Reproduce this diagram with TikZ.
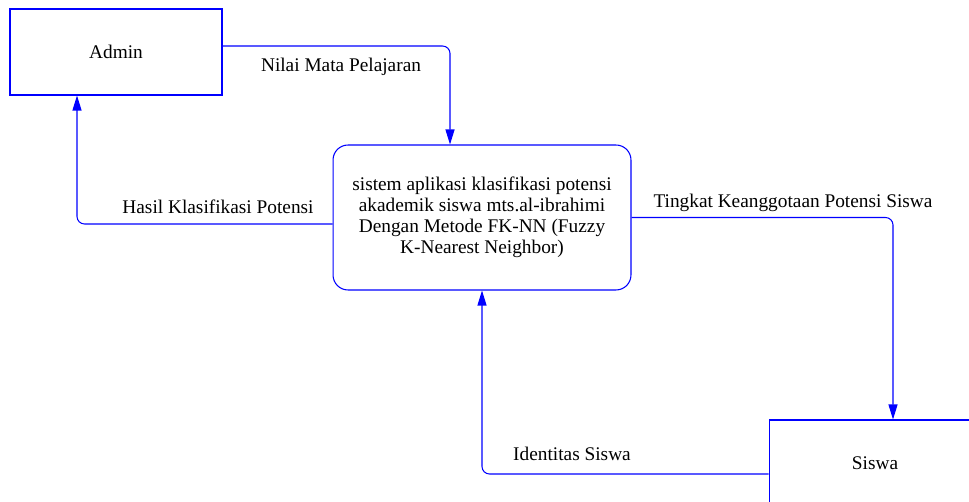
\documentclass[tikz,border=0pt]{standalone}
\usepackage{fontspec}
\setmainfont{Liberation Serif}
\usetikzlibrary{arrows.meta}

\begin{document}
\begin{tikzpicture}[
	x=0.02cm, y=-0.02cm,
	entity/.style={
		rectangle,
		draw=blue,
		line width=0.6pt,
		align=center,
		minimum width=4.24cm,
		minimum height=1.72cm,
		font=\fontsize{11}{12}\selectfont
	},
	process/.style={
		rectangle,
		draw=blue,
		line width=0.6pt,
		rounded corners=0.3cm,
		align=center,
		font=\fontsize{11}{12}\selectfont
	},
	flow/.style={
		draw=blue,
		line width=0.6pt,
		rounded corners=0.15cm,
		-{Triangle[length=0.3cm,width=0.18cm]}
	},
	flowlabel/.style={
		font=\fontsize{11}{12}\selectfont
	},
]

\useasboundingbox (0,0) rectangle (969,502);

%% Entities %%
\node[entity] (admin) at (116,52) {Admin};
\node[entity] (siswa) at (875,463) {Siswa};

%% Process %%
\node[process, minimum width=5.96cm, minimum height=2.9cm] (sys) at (482,217.5)
	{sistem aplikasi klasifikasi potensi\\akademik siswa mts.al-ibrahimi\\Dengan Metode FK-NN (Fuzzy\\K-Nearest Neighbor)};

%% Data flows %%
\draw[flow] ([yshift=0.12cm]admin.east) -| ([xshift=-0.64cm]sys.north);
\draw[flow] ([yshift=-0.13cm]sys.west) -| ([xshift=-0.78cm]admin.south);
\draw[flow] (sys.east) -| ([xshift=0.36cm]siswa.north);
\draw[flow] ([yshift=-0.22cm]siswa.west) -| (sys.south);

% labels %
\node[flowlabel] (lnilai) at (341,67) {Nilai Mata Pelajaran};
\node[flowlabel] (lhasil) at (218,207) {Hasil Klasifikasi Potensi};
\node[flowlabel] (ltingkat) at (793,203) {Tingkat Keanggotaan Potensi Siswa};
\node[flowlabel] (lident) at (572,454) {Identitas Siswa};

\end{tikzpicture}
\end{document}
